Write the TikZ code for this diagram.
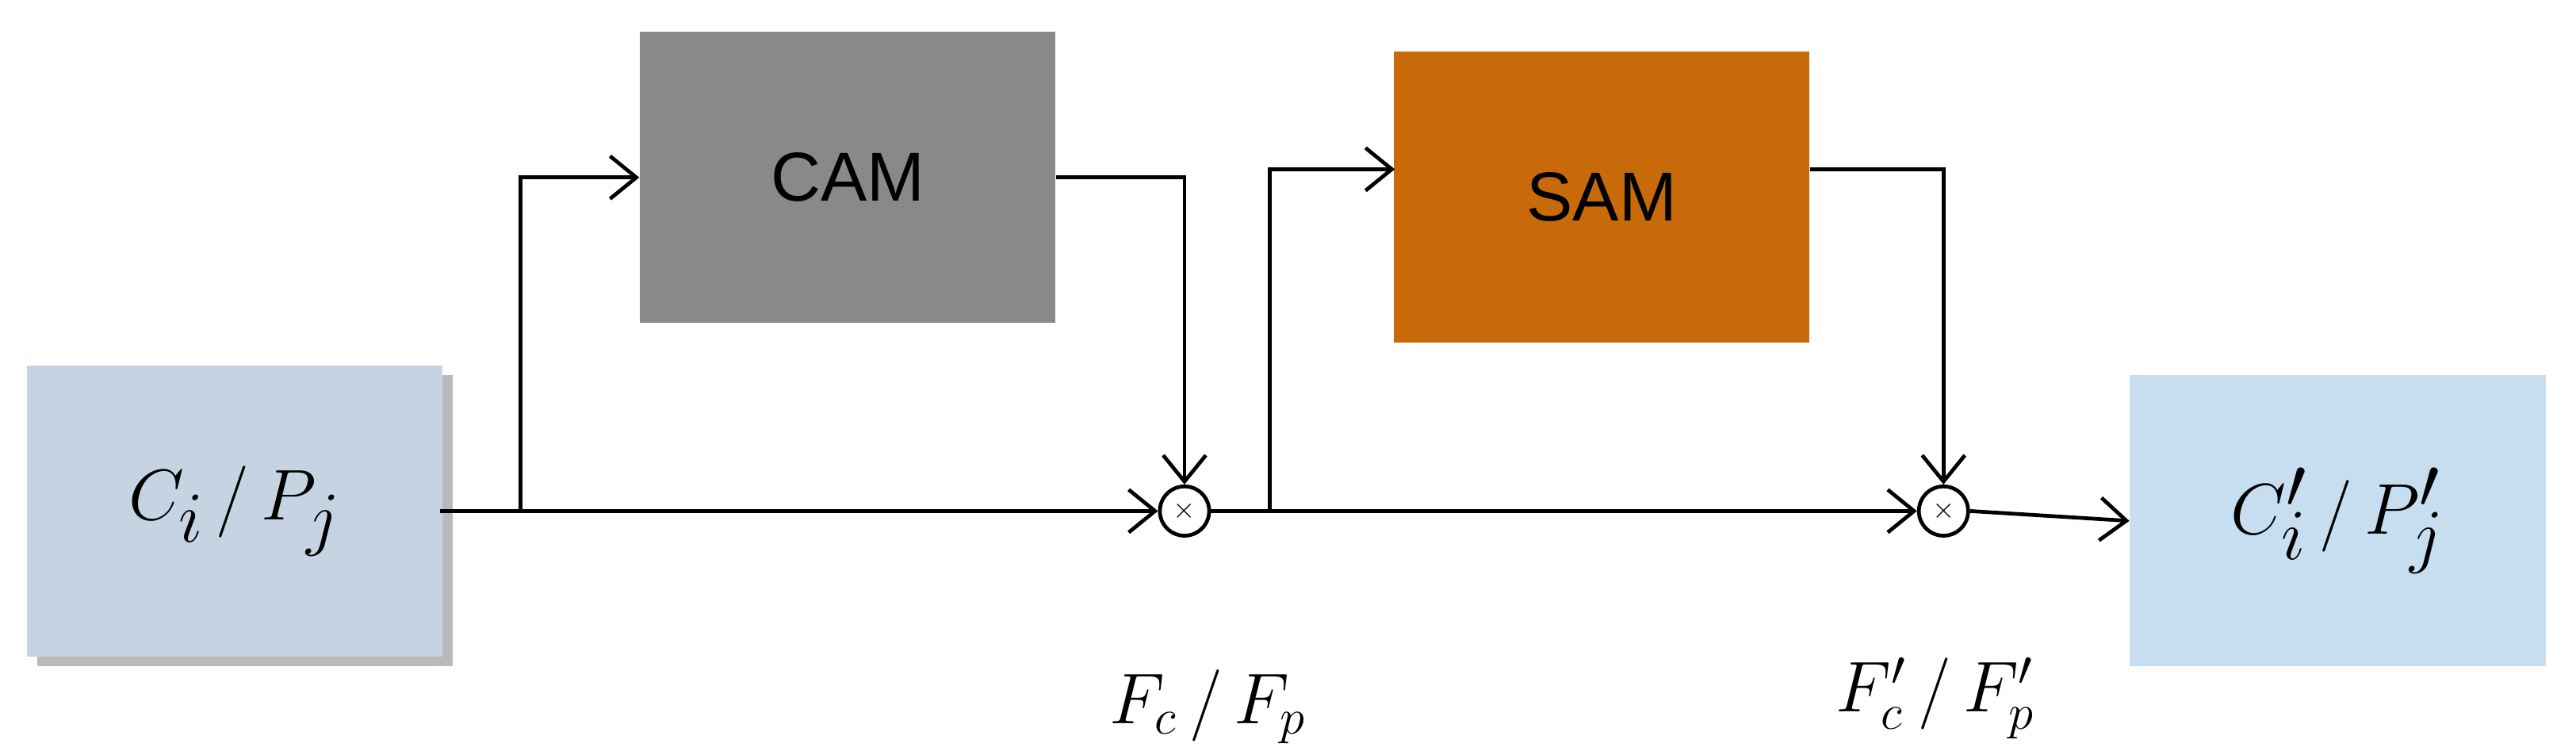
\documentclass[tikz,border=0pt]{standalone}
\usepackage{fontspec}
\setmainfont{Liberation Serif}
\newfontfamily\sansf{Liberation Sans}
\usetikzlibrary{arrows.meta,shadows}
\definecolor{inbox}{HTML}{C5D3E2}
\definecolor{outbox}{HTML}{C6DEF0}
\definecolor{camc}{HTML}{898989}
\definecolor{samc}{HTML}{C8690A}
\begin{document}
\begin{tikzpicture}[x=0.2mm,y=-0.2mm,
  box/.style={draw=none,minimum width=50.6mm,minimum height=35.4mm,inner sep=0},
  mod/.style={box,font=\sansf\fontsize{24}{28}\selectfont},
  io/.style={box,font=\fontsize{38}{44}\selectfont},
  ln/.style={line width=1.3pt,black},
  ar/.style={ln,-{Straight Barb[length=3.2mm,width=5.2mm,line width=1.3pt]}},
  mul/.style={circle,draw,line width=1.3pt,minimum size=6mm,inner sep=0},
  lab/.style={font=\fontsize{24}{28}\selectfont}]
\useasboundingbox (0,0) rectangle (1568,457);
\node[io,fill=inbox,drop shadow={shadow xshift=1.2mm,shadow yshift=-1.2mm,fill=black!45,opacity=0.6}] (in) at (143,311) {$C_i\,/\,P_j$};
\node[mod,fill=camc] (cam) at (516,108) {CAM};
\node[mod,fill=samc] (sam) at (975,120) {SAM};
\node[io,fill=outbox] (out) at (1423,317) {$C'_i\,/\,P'_j$};
\node[mul] (m1) at (721,311) {$\times$};
\node[mul] (m2) at (1183,311) {$\times$};
\node[lab] (l1) at (735,430) {$F_c\,/\,F_p$};
\node[lab] (l2) at (1178,425) {$F'_c\,/\,F'_p$};
\coordinate (b1) at (317,311);
\coordinate (b2) at (773,311);
\draw[ar] (268,311) -- (m1);
\draw[ar] (b1) |- (cam.west);
\draw[ar] (cam.east) -| (m1.north);
\draw[ar] (m1.east) -- (m2);
\draw[ar] (b2) |- (849,103);
\draw[ar] (1102,103) -| (m2.north);
\draw[ar] (m2.east) -- (out.west);
\end{tikzpicture}
\end{document}
